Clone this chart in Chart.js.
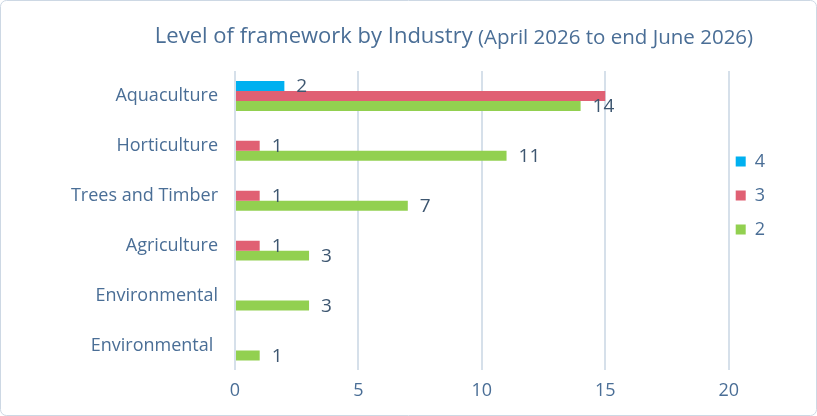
<!DOCTYPE html>
<html>
<head>
<meta charset="utf-8">
<script src="https://cdn.jsdelivr.net/npm/chart.js@4/dist/chart.umd.min.js"></script>
<style>
  html, body { margin: 0; padding: 0; background: #ffffff; }
  #wrap { position: relative; width: 817px; height: 416px; }
</style>
</head>
<body>
<div id="wrap"><canvas id="c" width="817" height="416"></canvas></div>
<script>
// ---- data ----
const categories = ['Aquaculture', 'Horticulture', 'Trees and Timber', 'Agriculture', 'Environmental', 'Environmental '];
const seriesNames = ['4', '3', '2'];
const level4 = [2, null, null, null, null, null];
const level3 = [15, 1, 1, 1, null, null];
const level2 = [14, 11, 7, 3, 3, 1];
const xTicks = [0, 5, 10, 15, 20];
const titleMain = 'Level of framework by Industry';
const titleSub = ' (April 2026 to end June 2026)';
// data labels not shown in the reference: [seriesIndex, categoryIndex]
const hiddenLabels = [[1, 0]];

const TEXT = '#4a6e96';
const LABEL = '#3d5670';
const FONT = '"Open Sans", Lato, sans-serif';

const frame = {
  id: 'frame',
  beforeDraw(chart) {
    const ctx = chart.ctx;
    ctx.save();
    ctx.fillStyle = '#ffffff';
    ctx.fillRect(0, 0, chart.width, chart.height);
    ctx.strokeStyle = '#cdd8e4';
    ctx.lineWidth = 1;
    ctx.beginPath();
    ctx.roundRect(0.5, 0.5, chart.width - 1, chart.height - 1, 6);
    ctx.stroke();
    ctx.restore();
  }
};

const titlePlugin = {
  id: 'twoPartTitle',
  afterDraw(chart) {
    const ctx = chart.ctx;
    ctx.save();
    ctx.fillStyle = TEXT;
    ctx.textBaseline = 'middle';
    const f1 = '22px ' + FONT, f2 = '20.5px ' + FONT;
    ctx.font = f1; const w1 = ctx.measureText(titleMain).width;
    ctx.font = f2; const w2 = ctx.measureText(titleSub).width;
    const x0 = 454 - (w1 + w2) / 2;
    const y = 37;
    ctx.font = f1; ctx.textAlign = 'left'; ctx.fillText(titleMain, x0, y);
    ctx.font = f2; ctx.fillText(titleSub, x0 + w1, y + 1);
    ctx.restore();
  }
};

const valueLabels = {
  id: 'valueLabels',
  afterDatasetsDraw(chart) {
    const ctx = chart.ctx;
    ctx.save();
    ctx.fillStyle = LABEL;
    ctx.font = '19px ' + FONT;
    ctx.textAlign = 'left';
    ctx.textBaseline = 'middle';
    chart.data.datasets.forEach((ds, di) => {
      const meta = chart.getDatasetMeta(di);
      meta.data.forEach((el, i) => {
        const v = ds.data[i];
        if (v === null || v === undefined) return;
        if (hiddenLabels.some(h => h[0] === di && h[1] === i)) return;
        ctx.fillText(String(v), el.x + 12, el.y + 1);
      });
    });
    ctx.restore();
  }
};

new Chart(document.getElementById('c'), {
  type: 'bar',
  data: {
    labels: categories,
    datasets: [
      { label: seriesNames[0], data: level4, backgroundColor: '#00b0f0' },
      { label: seriesNames[1], data: level3, backgroundColor: '#e06073' },
      { label: seriesNames[2], data: level2, backgroundColor: '#92d050' }
    ]
  },
  options: {
    indexAxis: 'y',
    responsive: false,
    animation: false,
    devicePixelRatio: 1,
    layout: { padding: { top: 71, left: 10, right: 42, bottom: 4 } },
    datasets: { bar: { categoryPercentage: 0.6, barPercentage: 1.0, borderWidth: 0 } },
    scales: {
      x: {
        min: 0, max: 20,
        afterBuildTicks(scale) { scale.ticks = xTicks.map(v => ({ value: v })); },
        grid: { color: '#d6e0ea', lineWidth: 2, drawTicks: false },
        border: { display: false },
        ticks: { color: TEXT, font: { family: FONT, size: 18 }, padding: 10 }
      },
      y: {
        afterFit(scale) { scale.width = 225; },
        grid: { display: false, drawTicks: false },
        border: { display: false },
        ticks: { color: TEXT, font: { family: FONT, size: 18 }, padding: 17 }
      }
    },
    plugins: {
      legend: {
        position: 'right',
        fullSize: false,
        align: 'start',
        title: { display: true, text: '', font: { size: 12 }, padding: 30 },
        labels: {
          boxWidth: 10, boxHeight: 10, padding: 7,
          color: TEXT,
          font: { family: FONT, size: 18, lineHeight: 1.5 },
          generateLabels(chart) {
            return Chart.defaults.plugins.legend.labels.generateLabels(chart)
              .map(l => Object.assign(l, { text: [l.text], lineWidth: 0 }));
          }
        }
      },
      title: { display: false },
      tooltip: { enabled: false }
    }
  },
  plugins: [frame, titlePlugin, valueLabels]
});
</script>
</body>
</html>
